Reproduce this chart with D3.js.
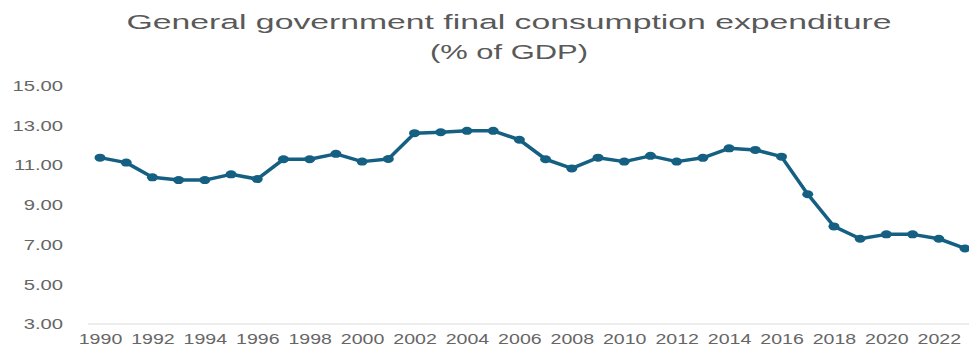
<!DOCTYPE html>
<html>
<head>
<meta charset="utf-8">
<script src="https://cdn.jsdelivr.net/npm/d3@7"></script>
<style>
  html,body{margin:0;padding:0;background:#fff;overflow:hidden}
  svg{display:block}
</style>
</head>
<body>
<svg id="chart"></svg>
<script>
// years and % of GDP
var years=d3.range(1990,2024)
var values=[11.37,11.12,10.38,10.24,10.24,10.53,10.29,11.29,11.29,11.56,
            11.17,11.30,12.60,12.65,12.72,12.72,12.27,11.29,10.83,11.37,
            11.17,11.46,11.17,11.36,11.84,11.76,11.42,9.53,7.91,7.29,
            7.51,7.51,7.29,6.80]
var yTicks=[3,5,7,9,11,13,15]
var xTicks=years.filter(d=>d%2==0)
var titleLines=['General government final consumption expenditure','(% of GDP)']

var W=969,H=348
var stretchX=1.35   // the picture is widened horizontally
var svg=d3.select('#chart').attr('width',W).attr('height',H)

var x=d3.scalePoint().domain(years).range([100,965])
var y=d3.scaleLinear().domain([3,15]).range([324,85.5])

// title
svg.append('g')
    .selectAll('text')
    .data(titleLines)
    .join('text')
    .attr('x',509)
    .attr('y',(d,i)=>i==0?29:59)
    .attr('text-anchor','middle')
    .attr('font-family','Liberation Sans, Arial, sans-serif')
    .attr('font-size',(d,i)=>i==0?20.5:20)
    .attr('fill','#595959')
    .attr('textLength',(d,i)=>i==0?765:158)
    .attr('lengthAdjust','spacingAndGlyphs')
    .text(d=>d)

// y axis labels
var gy=svg.append('g')
    .attr('transform','translate(88,0)')
    .call(d3.axisLeft(y).tickValues(yTicks).tickFormat(d3.format('.2f')).tickSize(0))
gy.select('.domain').remove()
gy.selectAll('text')
    .attr('x',-25/stretchX)
    .attr('transform',`scale(${stretchX},1)`)
    .attr('font-family','Liberation Sans, Arial, sans-serif')
    .attr('font-size',15)
    .attr('fill','#666')

// x axis
var gx=svg.append('g')
    .attr('transform','translate(0,324)')
    .call(d3.axisBottom(x).tickValues(xTicks).tickSize(0))
gx.select('.domain').remove()
gx.append('line')
    .attr('x1',88)
    .attr('x2',W)
    .attr('stroke','#d9d9d9')
    .attr('stroke-width',1.2)
gx.selectAll('.tick text')
    .attr('y',10)
    .attr('transform',`scale(${stretchX},1)`)
    .attr('font-family','Liberation Sans, Arial, sans-serif')
    .attr('font-size',14.5)
    .attr('fill','#666')

// series
var data=years.map((d,i)=>({year:d,value:values[i]}))
var line=d3.line()
    .x(d=>x(d.year))
    .y(d=>y(d.value))
svg.append('path')
    .datum(data)
    .attr('d',line)
    .attr('fill','none')
    .attr('stroke','#156082')
    .attr('stroke-width',3.5)
    .attr('stroke-linejoin','round')
    .attr('stroke-linecap','round')
svg.append('g')
    .selectAll('ellipse')
    .data(data)
    .join('ellipse')
    .attr('cx',d=>x(d.year))
    .attr('cy',d=>y(d.value))
    .attr('rx',5.5)
    .attr('ry',4)
    .attr('fill','#156082')
</script>
</body>
</html>
